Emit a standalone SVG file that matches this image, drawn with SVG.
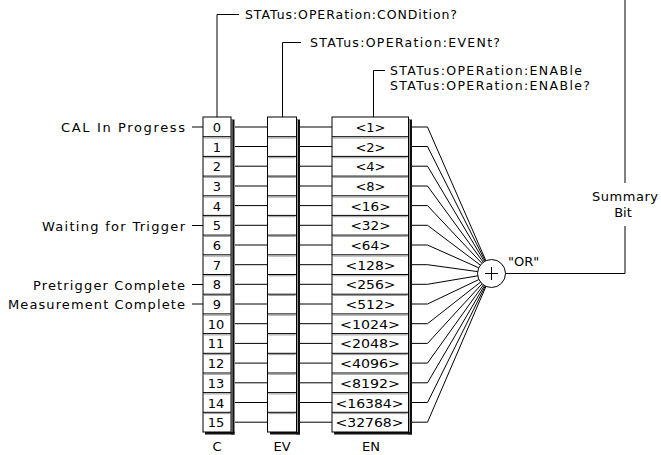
<svg xmlns="http://www.w3.org/2000/svg" width="661" height="455" viewBox="0 0 661 455">
<defs>
<style>
text{font-family:"DejaVu Sans","Liberation Sans",sans-serif;font-size:13px;fill:#000}
.t{font-size:12.5px}
.m{text-anchor:middle}
.e{text-anchor:end}
.ln{stroke:#000;stroke-width:1;fill:none}
.box{fill:#fff;stroke:#000;stroke-width:1}
.div{stroke:#000;stroke-width:1}
.div2{stroke:#999;stroke-width:1}
.sh{fill:#111}
</style>
</defs>
<rect width="661" height="455" fill="#fff"/>

<g id="connectors">
  <polyline class="ln" points="217,117 217,14.5 239,14.5"/>
  <polyline class="ln" points="282.5,117 282.5,42.5 301,42.5"/>
  <polyline class="ln" points="373.5,117 373.5,70.5 385,70.5"/>
  <line class="ln" x1="192" y1="127" x2="203" y2="127"/>
  <line class="ln" x1="192" y1="225.5" x2="203" y2="225.5"/>
  <line class="ln" x1="192" y1="284.5" x2="203" y2="284.5"/>
  <line class="ln" x1="192" y1="304" x2="203" y2="304"/>
  <path class="ln" d="M235,127H267.5M235,146.5H267.5M235,166.2H267.5M235,186H267.5M235,205.6H267.5M235,225.3H267.5M235,245H267.5M235,264.7H267.5M235,284.3H267.5M235,304H267.5M235,323.7H267.5M235,343.4H267.5M235,363.1H267.5M235,382.8H267.5M235,402.5H267.5M235,422.2H267.5"/>
  <path class="ln" d="M300,127H332M300,146.5H332M300,166.2H332M300,186H332M300,205.6H332M300,225.3H332M300,245H332M300,264.7H332M300,284.3H332M300,304H332M300,323.7H332M300,343.4H332M300,363.1H332M300,382.8H332M300,402.5H332M300,422.2H332"/>
  <path class="ln" d="M412,127H427.5L491.5,273.5M412,146.5H427.5L491.5,273.5M412,166.2H427.5L491.5,273.5M412,186H427.5L491.5,273.5M412,205.6H427.5L491.5,273.5M412,225.3H427.5L491.5,273.5M412,245H427.5L491.5,273.5M412,264.7H427.5L491.5,273.5M412,284.3H427.5L491.5,273.5M412,304H427.5L491.5,273.5M412,323.7H427.5L491.5,273.5M412,343.4H427.5L491.5,273.5M412,363.1H427.5L491.5,273.5M412,382.8H427.5L491.5,273.5M412,402.5H427.5L491.5,273.5M412,422.2H427.5L491.5,273.5"/>
  <polyline class="ln" points="505.5,273.5 625,273.5 625,226"/>
  <line class="ln" x1="625" y1="0" x2="625" y2="183"/>
</g>

<g id="labels-top">
  <text class="t" x="245" y="19" textLength="212" lengthAdjust="spacing">STATus:OPERation:CONDition?</text>
  <text class="t" x="310" y="47" textLength="190" lengthAdjust="spacing">STATus:OPERation:EVENt?</text>
  <text class="t" x="390" y="75" textLength="192" lengthAdjust="spacing">STATus:OPERation:ENABle</text>
  <text class="t" x="390" y="90" textLength="200" lengthAdjust="spacing">STATus:OPERation:ENABle?</text>
</g>

<g id="labels-left">
  <text class="e" x="185" y="132" textLength="124" lengthAdjust="spacing">CAL In Progress</text>
  <text class="e" x="185" y="230.5" textLength="143" lengthAdjust="spacing">Waiting for Trigger</text>
  <text class="e" x="185" y="289.5" textLength="152" lengthAdjust="spacing">Pretrigger Complete</text>
  <text class="e" x="185" y="309" textLength="177" lengthAdjust="spacing">Measurement Complete</text>
</g>

<g id="reg-C">
  <rect class="sh" x="231" y="119.5" width="3.5" height="315"/>
  <rect class="sh" x="205" y="431.5" width="29.5" height="3"/>
  <rect class="box" x="203" y="117" width="28" height="315"/>
  <path class="div" d="M203,136.7H231M203,156.4H231M203,176.1H231M203,195.8H231M203,215.4H231M203,235.1H231M203,254.8H231M203,274.5H231M203,294.2H231M203,313.9H231M203,333.6H231M203,353.3H231M203,373H231M203,392.6H231M203,412.3H231"/>
  <path class="div2" d="M204,138H230M204,157.7H230M204,177.4H230M204,197.1H230M204,216.7H230M204,236.4H230M204,256.1H230M204,275.8H230M204,295.5H230M204,315.2H230M204,334.9H230M204,354.6H230M204,374.3H230M204,393.9H230M204,413.6H230"/>
  <line stroke="#999" x1="232" y1="120" x2="232" y2="432"/>
  <text class="m" x="217" y="132">0</text>
  <text class="m" x="217" y="151.5">1</text>
  <text class="m" x="217" y="171.2">2</text>
  <text class="m" x="217" y="191">3</text>
  <text class="m" x="217" y="210.6">4</text>
  <text class="m" x="217" y="230.3">5</text>
  <text class="m" x="217" y="250">6</text>
  <text class="m" x="217" y="269.7">7</text>
  <text class="m" x="217" y="289.3">8</text>
  <text class="m" x="217" y="309">9</text>
  <text class="m" x="216" y="328.7">10</text>
  <text class="m" x="216" y="348.4">11</text>
  <text class="m" x="216" y="368.1">12</text>
  <text class="m" x="216" y="387.8">13</text>
  <text class="m" x="216" y="407.5">14</text>
  <text class="m" x="216" y="427.2">15</text>
  <text class="m" x="217" y="451">C</text>
</g>

<g id="reg-EV">
  <rect class="sh" x="296.5" y="119.5" width="3.5" height="315"/>
  <rect class="sh" x="270" y="431.5" width="30" height="3"/>
  <rect class="box" x="267.5" y="117" width="29" height="315"/>
  <path class="div" d="M267.5,136.7H296.5M267.5,156.4H296.5M267.5,176.1H296.5M267.5,195.8H296.5M267.5,215.4H296.5M267.5,235.1H296.5M267.5,254.8H296.5M267.5,274.5H296.5M267.5,294.2H296.5M267.5,313.9H296.5M267.5,333.6H296.5M267.5,353.3H296.5M267.5,373H296.5M267.5,392.6H296.5M267.5,412.3H296.5"/>
  <path class="div2" d="M268.5,138H295.5M268.5,157.7H295.5M268.5,177.4H295.5M268.5,197.1H295.5M268.5,216.7H295.5M268.5,236.4H295.5M268.5,256.1H295.5M268.5,275.8H295.5M268.5,295.5H295.5M268.5,315.2H295.5M268.5,334.9H295.5M268.5,354.6H295.5M268.5,374.3H295.5M268.5,393.9H295.5M268.5,413.6H295.5"/>
  <line stroke="#999" x1="297.5" y1="120" x2="297.5" y2="432"/>
  <text class="m" x="282" y="451">EV</text>
</g>

<g id="reg-EN">
  <rect class="sh" x="408.5" y="119.5" width="3.5" height="315"/>
  <rect class="sh" x="334" y="431.5" width="78" height="3"/>
  <rect class="box" x="332" y="117" width="76.5" height="315"/>
  <path class="div" d="M332,136.7H408.5M332,156.4H408.5M332,176.1H408.5M332,195.8H408.5M332,215.4H408.5M332,235.1H408.5M332,254.8H408.5M332,274.5H408.5M332,294.2H408.5M332,313.9H408.5M332,333.6H408.5M332,353.3H408.5M332,373H408.5M332,392.6H408.5M332,412.3H408.5"/>
  <path class="div2" d="M333,138H407.5M333,157.7H407.5M333,177.4H407.5M333,197.1H407.5M333,216.7H407.5M333,236.4H407.5M333,256.1H407.5M333,275.8H407.5M333,295.5H407.5M333,315.2H407.5M333,334.9H407.5M333,354.6H407.5M333,374.3H407.5M333,393.9H407.5M333,413.6H407.5"/>
  <line stroke="#999" x1="409.5" y1="120" x2="409.5" y2="432"/>
  <text class="m" x="370.5" y="132" textLength="30" lengthAdjust="spacingAndGlyphs">&lt;1&gt;</text>
  <text class="m" x="370.5" y="151.5" textLength="30" lengthAdjust="spacingAndGlyphs">&lt;2&gt;</text>
  <text class="m" x="370.5" y="171.2" textLength="30" lengthAdjust="spacingAndGlyphs">&lt;4&gt;</text>
  <text class="m" x="370.5" y="191" textLength="30" lengthAdjust="spacingAndGlyphs">&lt;8&gt;</text>
  <text class="m" x="370.5" y="210.6" textLength="40" lengthAdjust="spacingAndGlyphs">&lt;16&gt;</text>
  <text class="m" x="370.5" y="230.3" textLength="40" lengthAdjust="spacingAndGlyphs">&lt;32&gt;</text>
  <text class="m" x="370.5" y="250" textLength="40" lengthAdjust="spacingAndGlyphs">&lt;64&gt;</text>
  <text class="m" x="370.5" y="269.7" textLength="50" lengthAdjust="spacingAndGlyphs">&lt;128&gt;</text>
  <text class="m" x="370.5" y="289.3" textLength="50" lengthAdjust="spacingAndGlyphs">&lt;256&gt;</text>
  <text class="m" x="370.5" y="309" textLength="50" lengthAdjust="spacingAndGlyphs">&lt;512&gt;</text>
  <text class="m" x="370" y="328.7" textLength="60" lengthAdjust="spacingAndGlyphs">&lt;1024&gt;</text>
  <text class="m" x="370" y="348.4" textLength="60" lengthAdjust="spacingAndGlyphs">&lt;2048&gt;</text>
  <text class="m" x="370" y="368.1" textLength="60" lengthAdjust="spacingAndGlyphs">&lt;4096&gt;</text>
  <text class="m" x="370" y="387.8" textLength="60" lengthAdjust="spacingAndGlyphs">&lt;8192&gt;</text>
  <text class="m" x="369.5" y="407.5" textLength="68" lengthAdjust="spacingAndGlyphs">&lt;16384&gt;</text>
  <text class="m" x="369.5" y="427.2" textLength="68" lengthAdjust="spacingAndGlyphs">&lt;32768&gt;</text>
  <text class="m" x="371" y="451">EN</text>
</g>

<g id="or-gate">
  <circle cx="491.5" cy="273.5" r="14" fill="#fff" stroke="#000" stroke-width="1"/>
  <path class="ln" d="M485,273.5H498M491.5,267V280"/>
  <text x="508" y="266">"OR"</text>
</g>

<g id="summary">
  <text class="m" x="625" y="201" textLength="66" lengthAdjust="spacing">Summary</text>
  <text class="m" x="623" y="217">Bit</text>
</g>
</svg>
